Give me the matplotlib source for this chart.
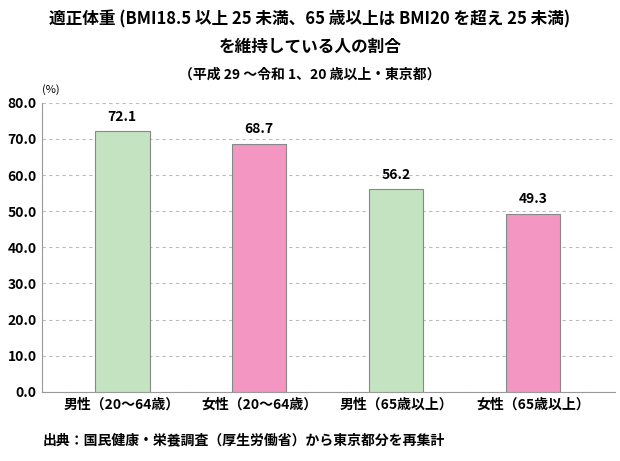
import matplotlib
matplotlib.use("Agg")
import matplotlib.pyplot as plt

categories = ["男性（20〜64歳）", "女性（20〜64歳）", "男性（65歳以上）", "女性（65歳以上）"]
values = [72.1, 68.7, 56.2, 49.3]
colors = ["#c3e3c1", "#f396c1", "#c3e3c1", "#f396c1"]
yticks = [0, 10, 20, 30, 40, 50, 60, 70, 80]

plt.rcParams["font.family"] = "Noto Sans CJK JP"
fig = plt.figure(figsize=(6.2, 4.61), dpi=100)
ax = fig.add_axes([0.068, 0.150, 0.924, 0.627])
x = list(range(len(categories)))
ax.bar(x, values, width=0.4, color=colors, edgecolor="#888888", linewidth=0.8, zorder=3)
for xi, v in zip(x, values):
    ax.text(xi, v + 2, f"{v:.1f}", ha="center", va="bottom", fontsize=10, fontweight="bold")
ax.set_xlim(-0.584, 3.6)
ax.set_ylim(0, 80)
ax.set_yticks(yticks)
ax.set_yticklabels([f"{t:.1f}" for t in yticks], fontsize=10, fontweight="bold")
ax.set_xticks(x)
ax.set_xticklabels(categories, fontsize=10, fontweight="bold")
ax.tick_params(length=0, pad=4)
ax.yaxis.grid(True, linestyle=(0, (3, 3)), color="#bbbbbb", linewidth=0.8, zorder=0)
for s in ["top", "right"]:
    ax.spines[s].set_visible(False)
ax.spines["left"].set_color("#999999")
ax.spines["bottom"].set_color("#999999")
fig.text(0.068, 0.795, "(%)", fontsize=8, ha="left", va="bottom")
fig.text(0.5, 0.957, "適正体重 (BMI18.5 以上 25 未満、65 歳以上は BMI20 を超え 25 未満)", ha="center", va="center", fontsize=12, fontweight="bold")
fig.text(0.5, 0.898, "を維持している人の割合", ha="center", va="center", fontsize=12, fontweight="bold")
fig.text(0.5, 0.838, "（平成 29 〜令和 1、20 歳以上・東京都）", ha="center", va="center", fontsize=10, fontweight="bold")
fig.text(0.068, 0.045, "出典：国民健康・栄養調査（厚生労働省）から東京都分を再集計", ha="left", va="center", fontsize=10, fontweight="bold")
fig.savefig("out.png", dpi=100)
